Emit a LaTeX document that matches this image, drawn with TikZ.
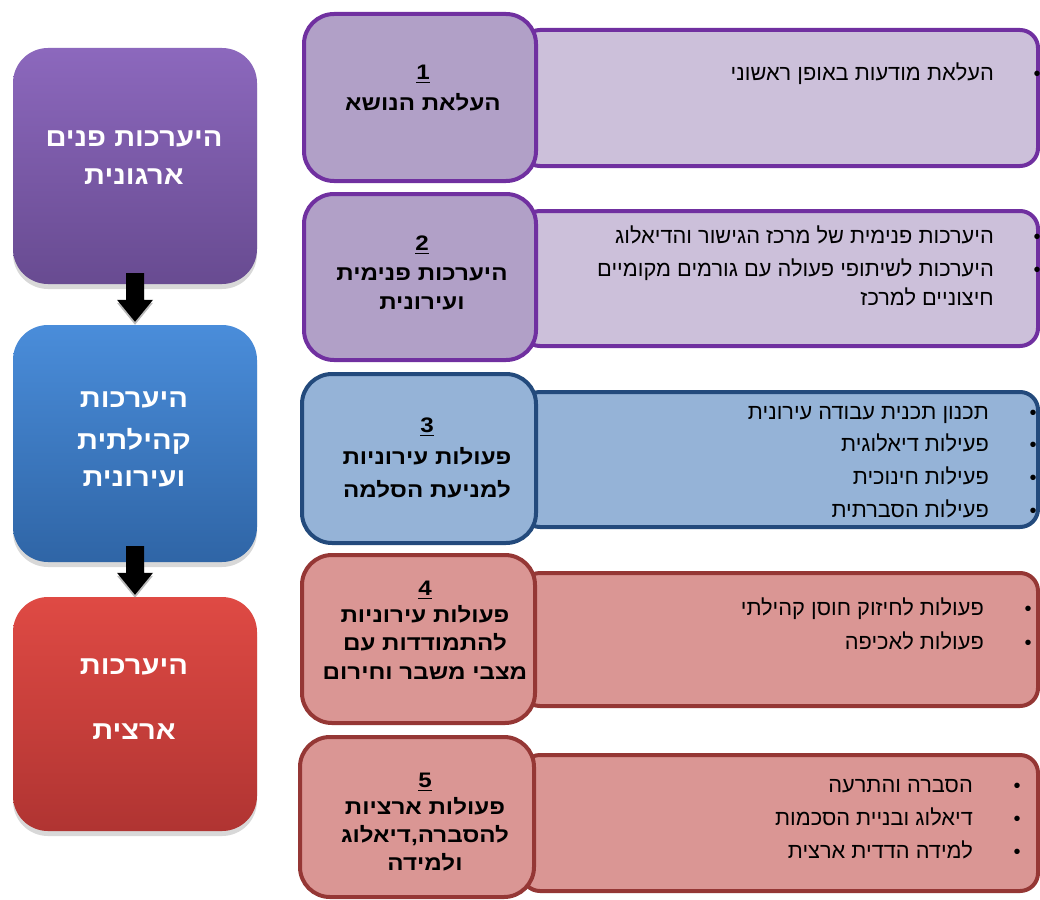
\documentclass[tikz,border=0pt]{standalone}
\usepackage{fontspec}
\setmainfont[Script=Hebrew]{Liberation Sans}
\newfontfamily\midfont[Script=Hebrew,FakeStretch=1.15]{Liberation Sans}
\newfontfamily\leftfont[Script=Hebrew,FakeStretch=1.12]{Liberation Sans}
\TeXXeTstate=1
\usetikzlibrary{calc,shadows}
\definecolor{purpB}{HTML}{7030A0}
\definecolor{purpM}{HTML}{B1A0C7}
\definecolor{purpR}{HTML}{CCC0DA}
\definecolor{blueB}{HTML}{234A7C}
\definecolor{blueM}{HTML}{95B3D7}
\definecolor{redB}{HTML}{953735}
\definecolor{redM}{HTML}{DA9694}
\definecolor{pTop}{HTML}{8C68BD}
\definecolor{pBot}{HTML}{684B91}
\definecolor{bTop}{HTML}{4A8DDA}
\definecolor{bBot}{HTML}{2F65A6}
\definecolor{rTop}{HTML}{DF4A44}
\definecolor{rBot}{HTML}{B03432}
\newcommand{\hebl}[1]{\beginR #1\endR}
\newcommand{\ulnum}[1]{\vtop{\hbox{#1}\kern2.5pt\hrule height 1.6pt}}
\newcommand{\blockarr}[2]{%
  \fill[black!45,opacity=0.6] ($(#1)+(-9,3)$) -- ($(#2)+(-9,-19)$) -- ($(#2)+(-18,-19)$) -- ($(#2)+(0,3)$) -- ($(#2)+(18,-19)$) -- ($(#2)+(9,-19)$) -- ($(#1)+(9,3)$) -- cycle;
  \fill[black] ($(#1)+(-9,0)$) -- ($(#2)+(-9,-22)$) -- ($(#2)+(-18,-22)$) -- (#2) -- ($(#2)+(18,-22)$) -- ($(#2)+(9,-22)$) -- ($(#1)+(9,0)$) -- cycle;}
\begin{document}
\begin{tikzpicture}[x=1pt,y=-1pt,
  leftbox/.style={rounded corners=35pt, inner sep=0pt, minimum width=244pt,
    drop shadow={shadow xshift=0pt, shadow yshift=-5pt, opacity=0.3}},
  lefttext/.style={text=white, font=\leftfont\bfseries\fontsize{26}{30}\selectfont, anchor=base, inner sep=0pt},
  midbox/.style={rounded corners=30pt, line width=4pt, inner sep=0pt},
  rightbox/.style={rounded corners=18pt, line width=4pt, inner sep=0pt, minimum width=516pt},
  midtext/.style={font=\midfont\bfseries\fontsize{21}{24}\selectfont, anchor=base, inner sep=0pt},
  bultext/.style={font=\fontsize{21.8}{24}\selectfont, anchor=base east, inner sep=0pt},
  bul/.style={font=\fontsize{20}{24}\selectfont, anchor=base, inner sep=0pt}]
\useasboundingbox (0,0) rectangle (1040,899);
\fill[white] (0,0) rectangle (1040,899);

% left column
\node[leftbox, minimum height=236pt, top color=pTop, bottom color=pBot] (p) at (135,166) {};
\node[leftbox, minimum height=237pt, top color=bTop, bottom color=bBot] (b) at (135,443.5) {};
\node[leftbox, minimum height=234pt, top color=rTop, bottom color=rBot] (nat) at (135,714) {};
\coordinate (a1s) at ($(p.south)+(0,-11)$);
\coordinate (a1e) at ($(b.north)+(0,-3)$);
\coordinate (a2s) at ($(b.south)+(0,-16)$);
\coordinate (a2e) at ($(nat.north)+(0,-2)$);
\blockarr{a1s}{a1e}
\blockarr{a2s}{a2e}

\node[lefttext] (pt1) at (134,146) {\hebl{היערכות פנים}};
\node[lefttext] (pt2) at (134,184) {\hebl{ארגונית}};
\node[lefttext] (bt1) at (134,407) {\hebl{היערכות}};
\node[lefttext] (bt2) at (134,449) {\hebl{קהילתית}};
\node[lefttext] (bt3) at (134,486) {\hebl{ועירונית}};
\node[lefttext] (nt1) at (134,674) {\hebl{היערכות}};
\node[lefttext] (nt2) at (134,739) {\hebl{ארצית}};

% right detail boxes
\node[rightbox, minimum height=136pt, draw=purpB, fill=purpR] (d1) at (780,98) {};
\node[rightbox, minimum height=135pt, draw=purpB, fill=purpR] (d2) at (780,278.5) {};
\node[rightbox, minimum height=135pt, draw=blueB, fill=blueM] (d3) at (780,459.5) {};
\node[rightbox, minimum height=133pt, draw=redB, fill=redM] (d4) at (780,639.5) {};
\node[rightbox, minimum height=136pt, draw=redB, fill=redM] (d5) at (780,823) {};

% middle numbered boxes
\node[midbox, minimum width=232pt, minimum height=167pt, draw=purpB, fill=purpM] (m1) at (420,97.5) {};
\node[midbox, minimum width=232pt, minimum height=166pt, draw=purpB, fill=purpM] (m2) at (420,277) {};
\node[midbox, minimum width=234pt, minimum height=169pt, draw=blueB, fill=blueM] (m3) at (419,458.5) {};
\node[midbox, minimum width=233pt, minimum height=168pt, draw=redB, fill=redM] (m4) at (418.5,639) {};
\node[midbox, minimum width=234pt, minimum height=160pt, draw=redB, fill=redM] (m5) at (417,817) {};

% middle texts
\node[midtext] (n1) at (423,79) {\ulnum{1}};
\node[midtext] (m1a) at (423,110) {\hebl{העלאת הנושא}};
\node[midtext] (n2) at (422,250) {\ulnum{2}};
\node[midtext] (m2a) at (422,280) {\hebl{היערכות פנימית}};
\node[midtext] (m2b) at (422,309) {\hebl{ועירונית}};
\node[midtext] (n3) at (427,432) {\ulnum{3}};
\node[midtext] (m3a) at (427,464) {\hebl{פעולות עירוניות}};
\node[midtext] (m3b) at (427,497) {\hebl{למניעת הסלמה}};
\node[midtext] (n4) at (425,595) {\ulnum{4}};
\node[midtext] (m4a) at (425,622) {\hebl{פעולות עירוניות}};
\node[midtext] (m4b) at (425,650) {\hebl{להתמודדות עם}};
\node[midtext] (m4c) at (425,679) {\hebl{מצבי משבר וחירום}};
\node[midtext] (n5) at (425,787) {\ulnum{5}};
\node[midtext] (m5a) at (425,814) {\hebl{פעולות ארציות}};
\node[midtext] (m5b) at (425,842) {\hebl{להסברה,דיאלוג}};
\node[midtext] (m5c) at (425,870) {\hebl{ולמידה}};

% bullet texts
\node[bultext] (t1a) at (994,80) {\hebl{העלאת מודעות באופן ראשוני}};
\node[bul] (b1a) at (1037,80) {•};
\node[bultext] (t2a) at (994,243) {\hebl{היערכות פנימית של מרכז הגישור והדיאלוג}};
\node[bul] (b2a) at (1037,243) {•};
\node[bultext] (t2b) at (994,276) {\hebl{היערכות לשיתופי פעולה עם גורמים מקומיים}};
\node[bul] (b2b) at (1037,276) {•};
\node[bultext] (t2c) at (994,305) {\hebl{חיצוניים למרכז}};
\node[bultext] (t3a) at (989,419) {\hebl{תכנון תכנית עבודה עירונית}};
\node[bul] (b3a) at (1033,419) {•};
\node[bultext] (t3b) at (989,451) {\hebl{פעילות דיאלוגית}};
\node[bul] (b3b) at (1033,451) {•};
\node[bultext] (t3c) at (989,484) {\hebl{פעילות חינוכית}};
\node[bul] (b3c) at (1033,484) {•};
\node[bultext] (t3d) at (989,517) {\hebl{פעילות הסברתית}};
\node[bul] (b3d) at (1033,517) {•};
\node[bultext] (t4a) at (984,615) {\hebl{פעולות לחיזוק חוסן קהילתי}};
\node[bul] (b4a) at (1028,615) {•};
\node[bultext] (t4b) at (984,649) {\hebl{פעולות לאכיפה}};
\node[bul] (b4b) at (1028,649) {•};
\node[bultext] (t5a) at (973,792) {\hebl{הסברה והתרעה}};
\node[bul] (b5a) at (1017,792) {•};
\node[bultext] (t5b) at (973,825) {\hebl{דיאלוג ובניית הסכמות}};
\node[bul] (b5b) at (1017,825) {•};
\node[bultext] (t5c) at (973,858) {\hebl{למידה הדדית ארצית}};
\node[bul] (b5c) at (1017,858) {•};
\end{tikzpicture}
\end{document}
